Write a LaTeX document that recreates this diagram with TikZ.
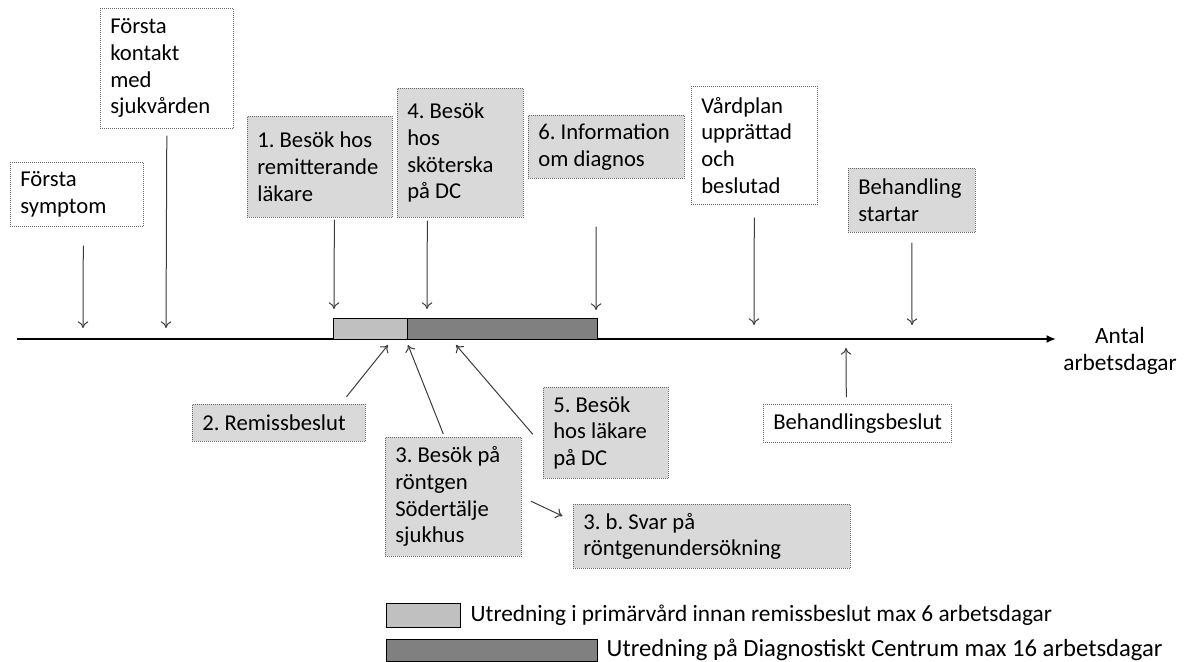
\documentclass[tikz,border=0pt]{standalone}
\usepackage{fontspec}
\setmainfont{Carlito}
\usetikzlibrary{arrows.meta}
\frenchspacing
\hyphenpenalty=10000

\begin{document}
\begin{tikzpicture}[x=0.75pt,y=0.75pt,yscale=-1,xscale=1,
  evbox/.style={draw={rgb,255:red,105;green,105;blue,105}, densely dotted, line width=0.5pt, anchor=north west, align=flush left, inner xsep=7.5pt, inner ysep=2pt, font=\fontsize{17}{20}\selectfont},
  greybox/.style={evbox, fill={rgb,255:red,217;green,217;blue,217}},
  evarrow/.style={draw={rgb,255:red,60;green,60;blue,60}, line width=0.75pt, -{To[length=5pt,width=8pt]}},
  primbar/.style={draw=black, line width=0.75pt, fill={rgb,255:red,192;green,192;blue,192}},
  dcbar/.style={draw=black, line width=0.75pt, fill={rgb,255:red,128;green,128;blue,128}},
  legtext/.style={anchor=west}
]
\useasboundingbox (0,0) rectangle (1189,661);

%Shape: time axis
\draw [line width=1.5pt, -{Latex[length=7pt,width=6pt]}] (17,339) -- (1056,339) ;
\node (axlabel) [align=center, font=\fontsize{17.5}{20}\selectfont] at (1120,351) {Antal\\arbetsdagar};

%Shape: bars on the axis
\draw [primbar] (333,318) rectangle (407,339) ;
\draw [dcbar] (407,318) rectangle (597,339) ;

% Boxes above the axis
\node (symp) [evbox, fill=white, text width=84.75pt, minimum height=48pt] at (10,162) {Första\\symptom};
\node (kontakt) [evbox, fill=white, text width=84.75pt, minimum height=90pt] at (100,8) {Första\\kontakt\\med\\sjukvården};
\node (besok1) [greybox, text width=93.75pt, minimum height=75.75pt] at (247,116) {1. Besök hos\\remitterande\\läkare};
\node (besok4) [greybox, text width=79.5pt, minimum height=96.75pt] at (397,88) {4. Besök\\hos\\sköterska\\på DC};
\node (info6) [greybox, text width=102pt, minimum height=47.25pt] at (528,115) {6. Information\\om diagnos};
\node (vardplan) [evbox, fill=white, text width=79.5pt, minimum height=88.5pt] at (691,86) {Vårdplan\\upprättad\\och\\beslutad};
\node (behstart) [greybox, text width=80.25pt, minimum height=48pt] at (848,168) {Behandling\\startar};

% Boxes below the axis
\node (remiss2) [greybox, text width=114.75pt, minimum height=27.75pt] at (192,404) {2. Remissbeslut};
\node (rontgen3) [greybox, text width=87pt, minimum height=89.25pt] at (385,437) {3. Besök på\\röntgen\\Södertälje\\sjukhus};
\node (besok5) [greybox, text width=78.75pt, minimum height=68.25pt] at (543,387) {5. Besök\\hos läkare\\på DC};
\node (svar3b) [greybox, text width=192.75pt, minimum height=48pt] at (573,504) {3. b. Svar på\\röntgenundersökning};
\node (behbeslut) [evbox, fill=white, text width=126pt, minimum height=28.5pt] at (763,404) {Behandlingsbeslut};

% Points on the axis
\coordinate (tsymp) at (83,328);
\coordinate (tkontakt) at (166,328);
\coordinate (tbesok1) at (334,309);
\coordinate (tbesok4) at (427,309);
\coordinate (tinfo6) at (596,310);
\coordinate (tvard) at (754,325);
\coordinate (tbehst) at (912,325);
\coordinate (tremiss) at (388,345);
\coordinate (trontgen) at (408,345);
\coordinate (tbesok5) at (456,345);
\coordinate (tbehbes) at (846,348);

% Arrows
\draw [evarrow, shorten <=14.25pt] ([xshift=4.9pt]symp.south) -- (tsymp) ;
\draw [evarrow, shorten <=5.25pt] (kontakt.south) -- (tkontakt) ;
\draw [evarrow, shorten <=1.5pt] ([xshift=10.9pt]besok1.south) -- (tbesok1) ;
\draw [evarrow, shorten <=2.25pt] ([xshift=-24.75pt]besok4.south) -- (tbesok4) ;
\draw [evarrow, shorten <=36pt] ([xshift=-7.5pt]info6.south) -- (tinfo6) ;
\draw [evarrow, shorten <=9.75pt] (vardplan.south) -- (tvard) ;
\draw [evarrow, shorten <=7.5pt] (behstart.south) -- (tbehst) ;
\draw [evarrow, shorten <=7pt] ([xshift=-18.75pt]remiss2.north east) -- (tremiss) ;
\draw [evarrow, shorten <=2.5pt] ([xshift=-6.6pt]rontgen3.north) -- (trontgen) ;
\draw [evarrow, shorten <=11.7pt] ([yshift=10pt]besok5.west) -- (tbesok5) ;
\draw [evarrow, shorten <=7.7pt, shorten >=8.7pt] (rontgen3.east) -- ([yshift=-11.5pt]svar3b.west) ;
\draw [evarrow, shorten <=5.25pt] ([xshift=-8.25pt]behbeslut.north) -- (tbehbes) ;

% Legend
\draw [primbar] (386,603) rectangle (460,627) ;
\node (legprim) [legtext, font=\fontsize{17.5}{20}\selectfont] at (466,615) {Utredning i primärvård innan remissbeslut max 6 arbetsdagar};
\draw [dcbar] (386,639) rectangle (597,661) ;
\node (legdc) [legtext, font=\fontsize{18.5}{20}\selectfont] at (602,650) {Utredning på Diagnostiskt Centrum max 16 arbetsdagar};

\end{tikzpicture}
\end{document}
